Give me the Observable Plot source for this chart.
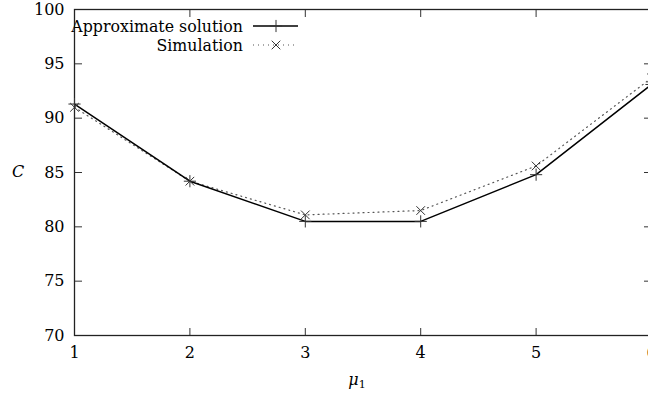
<!DOCTYPE html>
<html><head><meta charset="utf-8">
<script src="https://cdn.jsdelivr.net/npm/d3@7"></script>
<script src="https://cdn.jsdelivr.net/npm/@observablehq/plot@0.6"></script>
<style>body{margin:0;overflow:hidden;background:#fff} svg{display:block}</style>
</head><body><div id="chart"></div>
<script>
const mu = [1, 2, 3, 4, 5, 6];
const approx = [91.3, 84.2, 80.5, 80.5, 84.8, 93.1];
const sim = [91.0, 84.2, 81.1, 81.5, 85.6, 93.7];
const yTicks = [70, 75, 80, 85, 90, 95, 100];
const xTicks = [1, 2, 3, 4, 5, 6];
const seriesNames = ["Approximate solution", "Simulation"];

const approxData = mu.map((m, i) => ({mu: m, C: approx[i]}));
const simData = mu.map((m, i) => ({mu: m, C: sim[i]}));
const blank = () => "";
const FONT = "'DejaVu Serif', 'Liberation Serif', serif";

const chart = Plot.plot({
  width: 648, height: 393,
  marginLeft: 74, marginRight: -3, marginTop: 9, marginBottom: 58,
  style: {fontSize: "16px", background: "#fff", color: "#000", fontFamily: FONT},
  x: {domain: [1, 6]},
  y: {domain: [70, 100]},
  marks: [
    Plot.axisX(xTicks, {anchor: "bottom", tickSize: 0, tickPadding: 11, label: null, tickFormat: d3.format("d"), fontSize: 16}),
    Plot.axisX(xTicks, {anchor: "bottom", tickSize: -7, tickFormat: blank, label: null, stroke: "#333"}),
    Plot.axisX(xTicks, {anchor: "top", tickSize: -7, tickFormat: blank, label: null, stroke: "#333"}),
    Plot.axisY(yTicks, {anchor: "left", tickSize: 0, tickPadding: 10, label: null, fontSize: 16}),
    Plot.axisY(yTicks, {anchor: "left", tickSize: -8, tickFormat: blank, label: null, stroke: "#333"}),
    Plot.axisY(yTicks, {anchor: "right", tickSize: -8, tickFormat: blank, label: null, stroke: "#333"}),
    Plot.frame({stroke: "#222", strokeWidth: 1.3}),
    Plot.line(simData, {x: "mu", y: "C", stroke: "#555", strokeWidth: 1.2, strokeDasharray: "1 4"}),
    Plot.line(approxData, {x: "mu", y: "C", stroke: "#000", strokeWidth: 1.5}),
    Plot.dot(approxData, {x: "mu", y: "C", symbol: "plus", r: 4, stroke: "#333", strokeWidth: 1}),
    Plot.dot(simData, {x: "mu", y: "C", symbol: "times", r: 4, stroke: "#333", strokeWidth: 1})
  ]
});
document.getElementById("chart").appendChild(chart);

const svg = d3.select(chart);
// axis titles
svg.append("text").attr("x", 18).attr("y", 177).attr("text-anchor", "middle")
  .attr("font-style", "italic").attr("font-size", 16).attr("fill", "#000").text("C");
const xl = svg.append("text").attr("x", 357).attr("y", 385).attr("text-anchor", "middle")
  .attr("font-size", 16).attr("fill", "#000");
xl.append("tspan").attr("font-style", "italic").text("μ");
xl.append("tspan").attr("font-size", 11).attr("dy", 3).text("1");

// legend
const leg = svg.append("g").attr("font-size", 15.8).attr("fill", "#000");
const rows = [
  {name: seriesNames[0], dash: null, sym: d3.symbolPlus, stroke: "#000", w: 1.5},
  {name: seriesNames[1], dash: "1 4", sym: d3.symbolTimes, stroke: "#555", w: 1.2}
];
rows.forEach((r, i) => {
  const cy = 26 + i * 19;
  leg.append("text").attr("x", 243).attr("y", cy).attr("dy", "0.35em")
    .attr("text-anchor", "end").text(r.name);
  leg.append("line").attr("x1", 253).attr("x2", 298).attr("y1", cy).attr("y2", cy)
    .attr("stroke", r.stroke).attr("stroke-width", r.w).attr("stroke-dasharray", r.dash);
  leg.append("path").attr("transform", `translate(276,${cy})`)
    .attr("d", d3.symbol(r.sym, 50)()).attr("fill", "none").attr("stroke", "#333");
});
svg.style("font-family", FONT);
svg.selectAll("text").style("font-family", FONT);
</script>
</body></html>
